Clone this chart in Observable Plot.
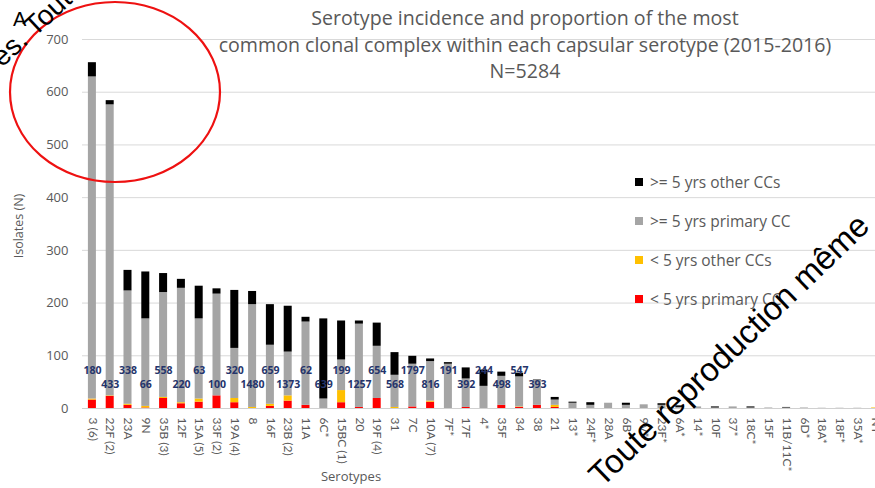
<!DOCTYPE html>
<html>
<head>
<meta charset="utf-8">
<script src="https://cdn.jsdelivr.net/npm/d3@7"></script>
<script src="https://cdn.jsdelivr.net/npm/@observablehq/plot@0.6"></script>
<style>
  html, body { margin: 0; padding: 0; background: #fff; overflow: hidden; }
  #chart { position: relative; width: 875px; height: 488px; overflow: hidden;
           font-family: "Open Sans", Lato, sans-serif; color: #595959; }
  #chart > svg { position: absolute; left: 0; top: 0; }
  .title { position: absolute; left: 125px; top: 5px; width: 800px; text-align: center;
           font-size: 19.6px; line-height: 26.5px; color: #595959; white-space: nowrap; }
  .ytitle { position: absolute; left: 18px; top: 226px; transform: translate(-50%, -50%) rotate(-90deg);
            font-size: 12.5px; white-space: nowrap; color: #595959; }
  .xtitle { position: absolute; left: 351px; top: 467px; transform: translateX(-50%);
            font-size: 13px; color: #595959; }
  .legend { position: absolute; left: 635px; top: 162px; }
  .legend .row { display: flex; align-items: center; height: 39px; font-size: 15.5px; color: #595959; white-space: nowrap; }
  .legend .sw { width: 8px; height: 8px; margin-right: 7px; }
  .overlay { pointer-events: none; }
</style>
</head>
<body>
<div id="chart"></div>
<script>
// Serotypes in descending order of incidence
const serotypes = ["3 (6)", "22F (2)", "23A", "9N", "35B (3)", "12F", "15A (5)", "33F (2)", "19A (4)", "8",
  "16F", "23B (2)", "11A", "6C*", "15BC (1)", "20", "19F (4)", "31", "7C", "10A (7)",
  "7F*", "17F", "4*", "35F", "34", "38", "21", "13*", "24F*", "28A",
  "6B", "9V*", "23F*", "6A*", "14*", "10F", "37*", "18C*", "15F", "11B/11C*",
  "6D*", "18A*", "18F*", "35A*", "NT"];

// Isolate counts per group (stacked bottom to top)
const under5Primary = [16, 23, 6, 1, 19, 9, 12, 24, 11, 0,
  4, 14, 6, 0, 11, 2, 19, 0, 3, 12,
  0, 2, 0, 6, 2, 6, 2, 0, 0, 0,
  0, 0, 0, 0, 0, 0, 0, 0, 0, 0,
  0, 0, 0, 0, 0];
const under5Other = [2, 1, 2, 3, 2, 2, 6, 0, 8, 2,
  4, 10, 0, 0, 23, 0, 0, 2, 0, 2,
  0, 0, 0, 0, 1, 0, 4, 0, 0, 0,
  0, 0, 0, 0, 0, 0, 0, 0, 0, 0,
  0, 0, 0, 0, 1];
const over5Primary = [611, 552, 215, 166, 199, 217, 152, 193, 95, 195,
  112, 83, 158, 18, 58, 158, 99, 61, 81, 75,
  84, 54, 42, 55, 57, 47, 10, 10, 6, 10,
  6, 7, 6, 2, 3, 1, 3, 1, 1, 1,
  1, 0.5, 0.5, 0.5, 0];
const over5Other = [27, 8, 39, 89, 36, 17, 62, 10, 110, 25,
  77, 87, 9, 152, 74, 6, 44, 43, 15, 5,
  3, 21, 31, 8, 7, 1, 5, 2, 5, 0,
  4, 0, 3, 3, 0, 2, 0, 2, 0, 1,
  0, 0, 0, 0, 0];

// Most common clonal complex for the leading serotypes
const clonalComplexes = ["180", "433", "338", "66", "558", "220", "63", "100", "320", "1480",
  "659", "1373", "62", "639", "199", "1257", "654", "568", "1797", "816",
  "191", "392", "244", "498", "547", "393"];

const groups = ["< 5 yrs primary CC", "< 5 yrs other CCs", ">= 5 yrs primary CC", ">= 5 yrs other CCs"];
const groupColors = ["#FF0000", "#FFC000", "#A5A5A5", "#000000"];
const groupValues = [under5Primary, under5Other, over5Primary, over5Other];
const yTicks = [0, 100, 200, 300, 400, 500, 600, 700];

// Tidy rows: for each serotype, groups in stacking order
const rows = serotypes.flatMap((s, i) => groups.map((g, j) => ({serotype: s, group: g, count: groupValues[j][i]})));
const ccRows = clonalComplexes.map((cc, i) => ({serotype: serotypes[i], cc, index: i}));

const chart = Plot.plot({
  width: 875,
  height: 488,
  marginLeft: 82,
  marginRight: 0,
  marginTop: 39,
  marginBottom: 80,
  style: {fontFamily: "'Open Sans', Lato, sans-serif", color: "#595959", background: "transparent"},
  x: {type: "band", domain: serotypes, range: [83, 884], paddingInner: 0.55, paddingOuter: 0.275, label: null},
  y: {domain: [0, 700], label: null},
  color: {domain: groups, range: groupColors},
  marks: [
    Plot.gridY(yTicks, {stroke: "#D9D9D9", strokeOpacity: 1}),
    Plot.ruleY([0], {stroke: "#D0D0D0"}),
    Plot.barY(rows, {x: "serotype", y: "count", fill: "group"}),
    Plot.text(ccRows, {
      x: "serotype",
      y: d => d.index % 2 ? 46 : 72,
      text: "cc",
      fill: "#24346B",
      fontSize: 10.5,
      fontWeight: 700
    }),
    Plot.axisY(yTicks, {tickSize: 0, tickPadding: 14, fontSize: 13, label: null}),
    Plot.axisX({tickSize: 0, tickRotate: 90, tickPadding: 9, fontSize: 12, fontFamily: "Lato, sans-serif", label: null})
  ]
});

const root = document.getElementById("chart");
root.appendChild(chart);

const title = document.createElement("div");
title.className = "title";
title.innerHTML = "Serotype incidence and proportion of the most<br>common clonal complex within each capsular serotype (2015-2016)<br>N=5284";
root.appendChild(title);

const ytitle = document.createElement("div");
ytitle.className = "ytitle";
ytitle.textContent = "Isolates (N)";
root.appendChild(ytitle);

const xtitle = document.createElement("div");
xtitle.className = "xtitle";
xtitle.textContent = "Serotypes";
root.appendChild(xtitle);

// Legend lists the groups from top of the stack down
const legend = document.createElement("div");
legend.className = "legend";
groups.slice().reverse().forEach(g => {
  const row = document.createElement("div");
  row.className = "row";
  const sw = document.createElement("span");
  sw.className = "sw";
  sw.style.background = groupColors[groups.indexOf(g)];
  row.appendChild(sw);
  row.appendChild(document.createTextNode(g));
  legend.appendChild(row);
});
root.appendChild(legend);

// Stamp and highlight drawn over the figure
const ns = "http://www.w3.org/2000/svg";
const overlay = document.createElementNS(ns, "svg");
overlay.setAttribute("class", "overlay");
overlay.setAttribute("width", 875);
overlay.setAttribute("height", 488);
overlay.innerHTML = `
  <ellipse cx="115" cy="92" rx="105" ry="90" fill="none" stroke="#EE1111" stroke-width="2.2"/>
  <text x="13" y="26" font-family="'Liberation Sans', Arial, sans-serif" font-size="20" fill="#000">A</text>
  <text transform="translate(2,68) rotate(-43)" font-family="'Liberation Sans', Arial, sans-serif" font-size="28" fill="#000">es. Toute reproduction</text>
  <text transform="translate(602,488) rotate(-44)" font-family="'Liberation Sans', Arial, sans-serif" font-size="33" fill="#000">Toute reproduction même</text>
`;
root.appendChild(overlay);
</script>
</body>
</html>
